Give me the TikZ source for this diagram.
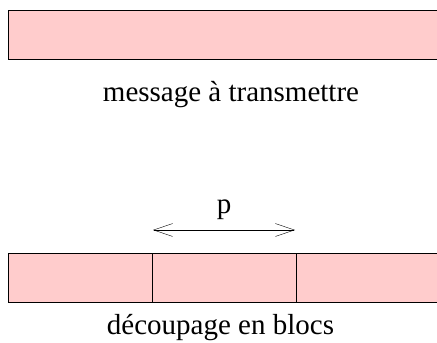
\documentclass[tikz,border=0pt]{standalone}
\usepackage{fontspec}
\setmainfont{Liberation Serif}
\usetikzlibrary{arrows.meta,positioning}
\begin{document}
\begin{tikzpicture}[x=1pt,y=-1pt,font=\fontsize{29}{34}\selectfont,>={Straight Barb[length=19pt,width=13pt]},
  bar/.style={draw,fill=red!20,line width=1pt,minimum height=49pt,inner sep=0pt,outer sep=0pt},
  blk/.style={bar,minimum width=144pt}]
\useasboundingbox (0,0) rectangle (437,343);
\node[bar,minimum width=460pt,anchor=north west] (msg) at (8,10) {};
\node (lmsg) at (231,95) {message à transmettre};
\node[blk,anchor=north west] (b1) at (8,253) {};
\node[blk,right=0pt of b1] (b2) {};
\node[blk,right=0pt of b2,minimum width=170pt] (b3) {};
\draw[<->] ([xshift=1pt,yshift=23pt]b2.north west) -- node[above=7pt] {p} ([xshift=-1pt,yshift=23pt]b2.north east);
\node (lblk) at (220.5,328) {découpage en blocs};
\end{tikzpicture}
\end{document}
